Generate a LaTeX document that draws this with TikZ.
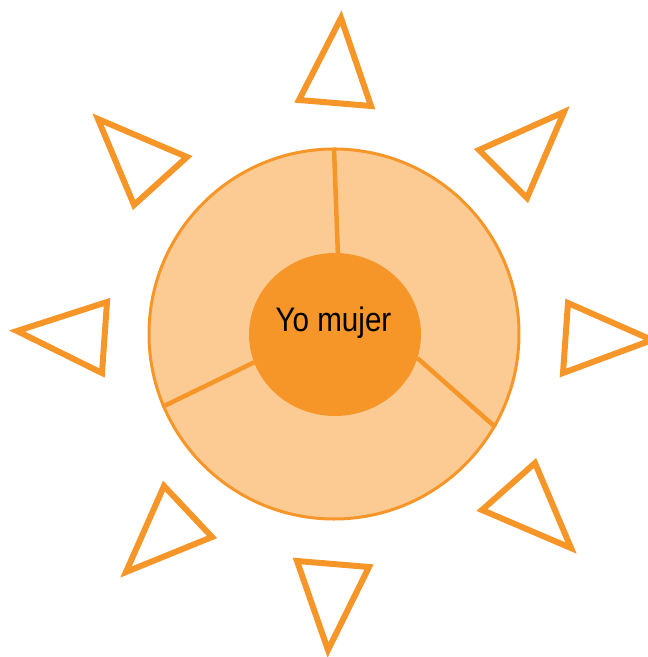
\documentclass[tikz,border=0pt]{standalone}
\usepackage{fontspec}
\setmainfont{Liberation Sans}
\usetikzlibrary{shapes.geometric,calc}
\definecolor{sunorange}{RGB}{247,150,40}
\definecolor{sunlight}{RGB}{251,203,147}
\tikzset{
  rayedge/.style={draw=sunorange, line width=6pt, line join=miter},
  disc/.style={circle, draw=sunorange, fill=sunlight, line width=3pt, minimum size=370pt, inner sep=0pt},
  core/.style={ellipse, fill=sunorange, minimum width=172pt, minimum height=163pt, inner sep=0pt},
  divider/.style={draw=sunorange, line width=4.5pt},
  note/.style={font=\fontsize{34}{38}\selectfont, text=black, inner sep=0pt}
}
\begin{document}
\begin{tikzpicture}[x=1pt,y=-1pt]
  \useasboundingbox (0,0) rectangle (648,657);
  % rays
  \foreach \xa/\ya/\xb/\yb/\xc/\yc in {
      341/18/371/106/299/100,
      564/112/479/150/527/198,
      568/303/563/373/652/340,
      535/463/482/510/571/548,
      297/561/369/567/328/650,
      164/486/212/537/126/572,
      17/331/107/302/102/373,
      98/119/187/157/134/205}
    \draw[rayedge] (\xa,\ya) -- (\xb,\yb) -- (\xc,\yc) -- cycle;
  % sun
  \node[disc] (sol) at (334,334) {};
  \node[core] (yo) at (335,334.5) {};
  \draw[divider] (sol.90) -- (yo.88);
  \draw[divider] (sol.203) -- (yo.199.6);
  \draw[divider] (sol.330.8) -- (yo.344.7);
  \node[note, anchor=base] (lbl) at (333.5,331) {\scalebox{0.87}[1]{Yo mujer}};
\end{tikzpicture}
\end{document}
